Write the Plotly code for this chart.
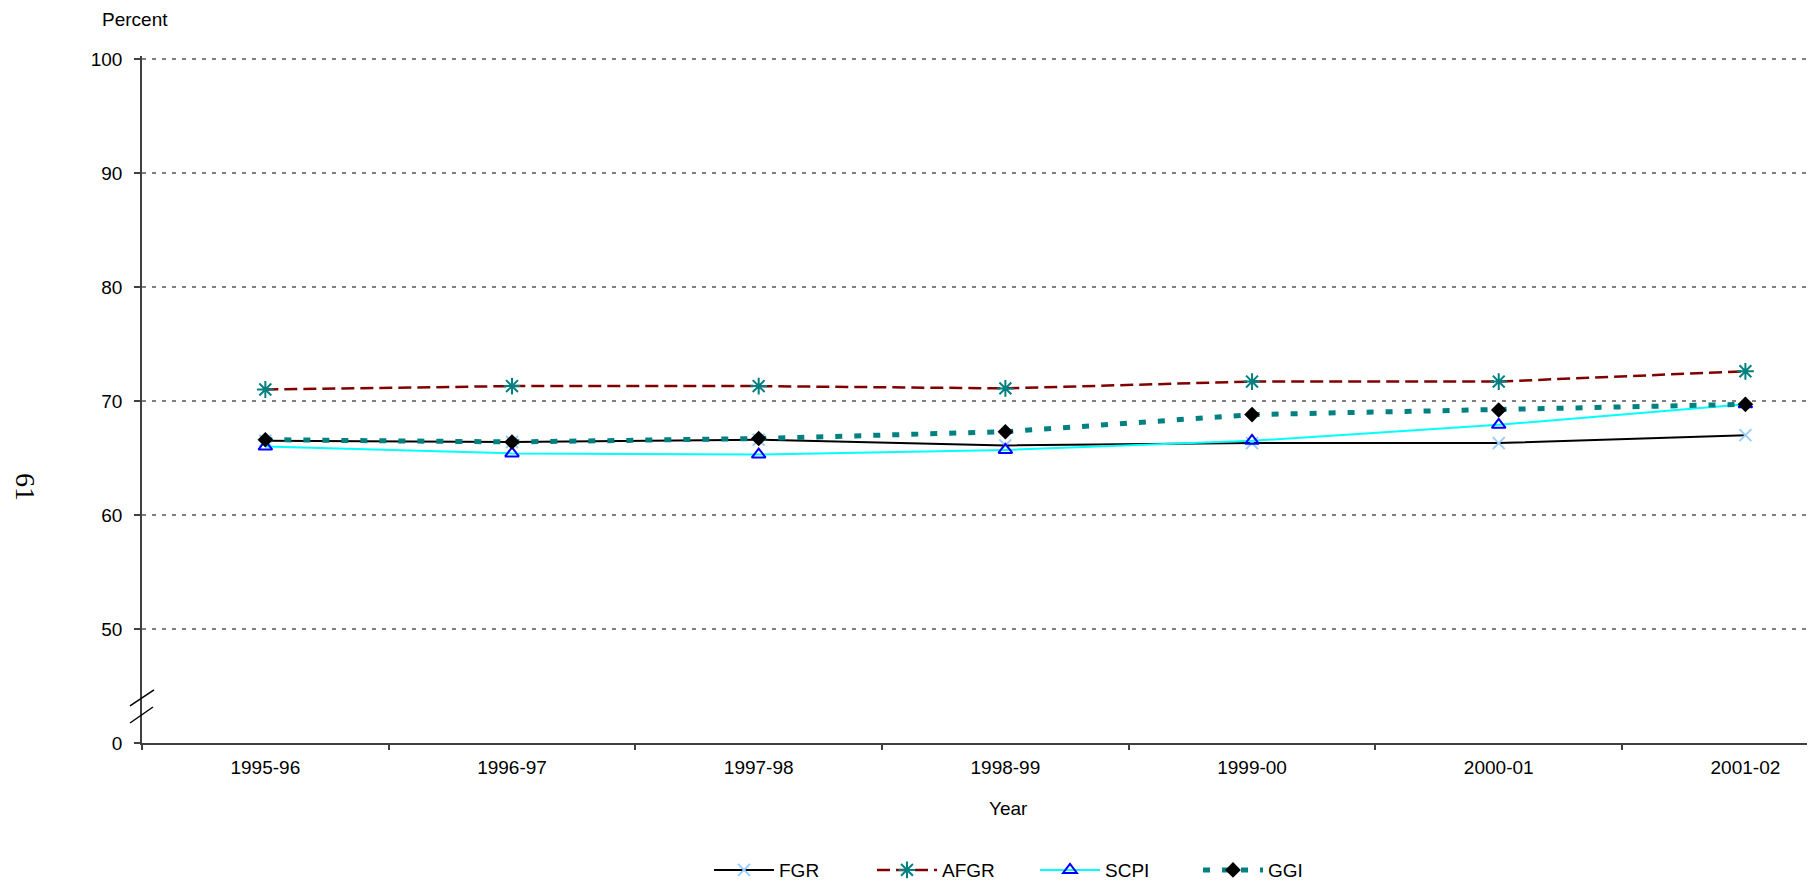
import plotly.graph_objects as go

years = ["1995-96", "1996-97", "1997-98", "1998-99", "1999-00", "2000-01", "2001-02"]
fgr = [66.5, 66.4, 66.6, 66.1, 66.3, 66.3, 67.0]
afgr = [71.0, 71.3, 71.3, 71.1, 71.7, 71.7, 72.6]
scpi = [66.0, 65.4, 65.3, 65.7, 66.5, 67.9, 69.7]
ggi = [66.6, 66.4, 66.7, 67.3, 68.8, 69.2, 69.7]

y_tickvals = [40, 50, 60, 70, 80, 90, 100]
y_ticktext = ["0", "50", "60", "70", "80", "90", "100"]
Y_MIN, Y_MAX = 40, 100.25

# The page body adds an 8px offset; build the figure so that it lands on
# the reference pixel positions.
OFF = 8
W, H = 1815 - OFF, 883 - OFF
UNIT = (743 - 59) / 60.0          # pixels per percent in the reference
PLOT_L, PLOT_R, PLOT_B = 142, 1812, 743
PLOT_T = PLOT_B - (Y_MAX - Y_MIN) * UNIT
ML, MR, MT, MB = PLOT_L - OFF, W - (PLOT_R - OFF), PLOT_T - OFF, H - (PLOT_B - OFF)
PW, PH = PLOT_R - PLOT_L, PLOT_B - PLOT_T


def px_x(x):
    return (x - PLOT_L) / PW


def px_y(y):
    return (PLOT_B - y) / PH


FONT = "Liberation Sans, Arial, sans-serif"

fig = go.Figure()
fig.add_trace(go.Scatter(
    x=years, y=fgr, name="FGR", mode="lines+markers",
    line=dict(color="#000000", width=2),
    marker=dict(symbol="x-thin-open", size=12, color="#99CCFF",
                line=dict(color="#99CCFF", width=2)),
))
fig.add_trace(go.Scatter(
    x=years, y=afgr, name="AFGR", mode="lines+markers",
    line=dict(color="#800000", width=2.5, dash="13px,6px"),
    marker=dict(symbol="asterisk-open", size=14, color="#008080",
                line=dict(color="#008080", width=2)),
))
fig.add_trace(go.Scatter(
    x=years, y=scpi, name="SCPI", mode="lines+markers",
    line=dict(color="#00FFFF", width=2),
    marker=dict(symbol="triangle-up-open", size=12, color="#0000FF",
                line=dict(color="#0000FF", width=2)),
))
fig.add_trace(go.Scatter(
    x=years, y=ggi, name="GGI", mode="lines+markers",
    line=dict(color="#008080", width=5, dash="7px,12px"),
    marker=dict(symbol="diamond", size=12, color="#000000",
                line=dict(color="#000000", width=0)),
))

# axis break marks
fig.add_shape(type="line", xref="paper", yref="paper",
              x0=px_x(130), y0=px_y(706), x1=px_x(154), y1=px_y(690),
              line=dict(color="#000000", width=1.5))
fig.add_shape(type="line", xref="paper", yref="paper",
              x0=px_x(130), y0=px_y(723), x1=px_x(153), y1=px_y(707),
              line=dict(color="#000000", width=1.5))

fig.add_annotation(text="Percent", xref="paper", yref="paper",
                   x=px_x(100), y=px_y(19.5), xanchor="left", yanchor="middle",
                   height=20, valign="middle",
                   showarrow=False, font=dict(family=FONT, size=19, color="#000"))
fig.add_annotation(text="Year", xref="paper", yref="paper",
                   x=px_x(1009), y=px_y(808), xanchor="center", yanchor="middle",
                   showarrow=False, font=dict(family=FONT, size=19, color="#000"))
fig.add_annotation(text="61", xref="paper", yref="paper",
                   x=px_x(25), y=px_y(487), xanchor="center", yanchor="middle",
                   textangle=90, showarrow=False,
                   font=dict(family="Liberation Serif, Times New Roman, serif", size=28, color="#000"))

fig.update_layout(
    width=W, height=H,
    margin=dict(l=ML, r=MR, t=MT, b=MB, pad=0, autoexpand=False),
    paper_bgcolor="#FFFFFF", plot_bgcolor="#FFFFFF",
    font=dict(family=FONT, size=19, color="#000000"),
    showlegend=True,
    legend=dict(orientation="h", x=px_x(709), y=px_y(870),
                xanchor="left", yanchor="middle",
                itemwidth=60, entrywidth=88, entrywidthmode="pixels",
                font=dict(family=FONT, size=19, color="#000"),
                bgcolor="rgba(0,0,0,0)", borderwidth=0),
    xaxis=dict(type="category", categoryorder="array", categoryarray=years,
               range=[-0.5, 6.27], showgrid=False, zeroline=False,
               showline=True, linecolor="#404040", linewidth=1.5,
               ticks="outside", tickson="boundaries", ticklen=5,
               tickcolor="#404040", tickwidth=1.5,
               ticklabelstandoff=6,
               tickfont=dict(family=FONT, size=19, color="#000")),
    yaxis=dict(range=[Y_MIN, Y_MAX], tickvals=y_tickvals, ticktext=y_ticktext,
               showgrid=True, gridcolor="#808080", gridwidth=2,
               griddash="4px,6px", zeroline=False,
               showline=True, linecolor="#404040", linewidth=1.5,
               ticks="outside", ticklen=6, tickcolor="#404040", tickwidth=1.5,
               ticklabelstandoff=8,
               tickfont=dict(family=FONT, size=19, color="#000")),
)

fig.write_html("out.html")
